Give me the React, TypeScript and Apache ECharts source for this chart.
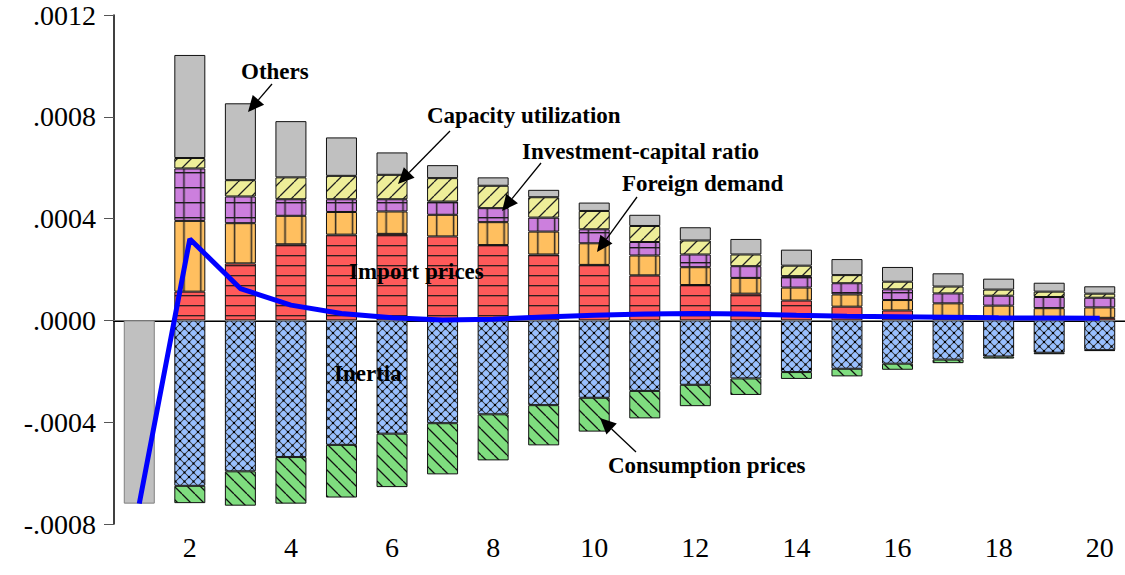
import React, { useEffect, useRef } from "react";
import * as echarts from "echarts";

// Values in units of 0.0001
const categories = ["1", "2", "3", "4", "5", "6", "7", "8", "9", "10", "11", "12", "13", "14", "15", "16", "17", "18", "19", "20"];
const importPrices = [null, 1.13, 2.24, 2.99, 3.37, 3.4, 3.3, 2.96, 2.59, 2.18, 1.77, 1.39, 1.05, 0.78, 0.54, 0.39, 0.08, 0.05, 0.05, 0.1];
const foreignDemand = [null, 2.78, 1.58, 1.12, 0.89, 0.88, 0.85, 0.9, 0.9, 0.85, 0.78, 0.7, 0.62, 0.51, 0.48, 0.41, 0.59, 0.53, 0.43, 0.41];
const investmentCapital = [null, 2.06, 1.05, 0.65, 0.5, 0.48, 0.52, 0.55, 0.55, 0.55, 0.53, 0.5, 0.46, 0.45, 0.44, 0.42, 0.39, 0.39, 0.44, 0.38];
const capacityUtil = [null, 0.41, 0.64, 0.86, 0.92, 0.96, 0.92, 0.88, 0.8, 0.72, 0.63, 0.55, 0.46, 0.41, 0.32, 0.3, 0.27, 0.24, 0.21, 0.16];
const inertia = [null, -6.5, -5.93, -5.37, -4.89, -4.45, -4.04, -3.69, -3.33, -3.04, -2.77, -2.53, -2.28, -2.03, -1.9, -1.7, -1.54, -1.42, -1.27, -1.17];
const consumptionPrices = [null, -0.68, -1.35, -1.83, -2.07, -2.1, -2.01, -1.81, -1.58, -1.33, -1.08, -0.84, -0.65, -0.27, -0.3, -0.24, -0.14, -0.08, -0.06, -0.03];
const others = [-7.2, 4.05, 3.02, 2.21, 1.51, 0.88, 0.51, 0.33, 0.29, 0.33, 0.44, 0.52, 0.61, 0.63, 0.63, 0.58, 0.52, 0.43, 0.35, 0.29];
const totalResponse = [-7.2, 3.2, 1.25, 0.6, 0.27, 0.1, 0.02, 0.05, 0.13, 0.2, 0.25, 0.27, 0.25, 0.2, 0.16, 0.14, 0.12, 0.1, 0.09, 0.08];
const yTicks = { min: -8, max: 12, interval: 4 };

const W = 1125;
const H = 575;
const GRID = { left: 114, right: 0, top: 15, bottom: 51 };
const BAR_W = 31;
const FONT = "'Liberation Serif', 'Times New Roman', serif";

type Draw = (ctx: CanvasRenderingContext2D, w: number, h: number) => void;
function makePattern(w: number, h: number, bg: string, draw: Draw) {
  const S = 4;
  const c = document.createElement("canvas");
  c.width = Math.round(w * S);
  c.height = Math.round(h * S);
  const ctx = c.getContext("2d")!;
  ctx.scale(c.width / w, c.height / h);
  ctx.fillStyle = bg;
  ctx.fillRect(0, 0, w, h);
  draw(ctx, w, h);
  return { image: c.toDataURL(), repeat: "repeat", imageWidth: w, imageHeight: h } as any;
}

function arrow(x1: number, y1: number, x2: number, y2: number) {
  const dx = x2 - x1, dy = y2 - y1;
  const len = Math.sqrt(dx * dx + dy * dy);
  const ux = dx / len, uy = dy / len;
  const hl = 16, hw = 7.5;
  const bx = x2 - ux * hl, by = y2 - uy * hl;
  return [
    { type: "line", z: 100, shape: { x1, y1, x2: bx, y2: by }, style: { stroke: "#000", lineWidth: 1.3 } },
    {
      type: "polygon", z: 100,
      shape: { points: [[x2, y2], [bx - uy * hw, by + ux * hw], [bx + uy * hw, by - ux * hw]] },
      style: { fill: "#000" },
    },
  ];
}

function label(text: string, x: number, y: number) {
  return {
    type: "text", z: 100, x, y,
    style: { text, fontSize: 23, fontWeight: "bold", fontFamily: FONT, fill: "#000", verticalAlign: "middle", align: "left" },
  };
}

export default function App() {
  const ref = useRef<HTMLDivElement>(null);
  useEffect(() => {
    const chart = echarts.init(ref.current!, null, { renderer: "svg" });
    const catW = (W - GRID.left - GRID.right) / categories.length;
    const P = catW / 3;
    const barLeft1 = GRID.left + (catW - BAR_W) / 2;
    const vOff = (barLeft1 + 9.5) % P;
    const lineC = "#1a1a1a";

    const redPat = makePattern(10, 10, "#ff5a5a", (ctx, w) => {
      ctx.fillStyle = lineC; ctx.fillRect(0, 5.1, w, 1.2);
    });
    const orangePat = makePattern(P, 10, "#ffbf5f", (ctx, w, h) => {
      ctx.fillStyle = lineC; ctx.fillRect(vOff - 0.7, 0, 1.4, h);
    });
    const purplePat = makePattern(P, 15, "#cc7fdd", (ctx, w, h) => {
      ctx.fillStyle = lineC; ctx.fillRect(vOff - 0.7, 0, 1.4, h); ctx.fillRect(0, 7, w, 1.4);
    });
    const yellowPat = makePattern(14, 14, "#eeee99", (ctx, w, h) => {
      ctx.strokeStyle = "#222"; ctx.lineWidth = 1.3;
      for (const o of [-14, 0, 14]) { ctx.beginPath(); ctx.moveTo(o, h); ctx.lineTo(o + w, 0); ctx.stroke(); }
    });
    const greenPat = makePattern(13, 13, "#7fdd7f", (ctx, w, h) => {
      ctx.strokeStyle = "#111"; ctx.lineWidth = 1.3;
      for (const o of [-13, 0, 13]) { ctx.beginPath(); ctx.moveTo(o, 0); ctx.lineTo(o + w, h); ctx.stroke(); }
    });
    const bluePat = makePattern(9, 9, "#99c0ff", (ctx, w, h) => {
      ctx.strokeStyle = "#333"; ctx.lineWidth = 0.9;
      ctx.beginPath(); ctx.moveTo(0, 0); ctx.lineTo(w, h); ctx.stroke();
      ctx.beginPath(); ctx.moveTo(w, 0); ctx.lineTo(0, h); ctx.stroke();
      ctx.fillStyle = "#000";
      const d = 1.1;
      for (const [x, y] of [[0, 0], [w, 0], [0, h], [w, h], [w / 2, h / 2]]) ctx.fillRect(x - d, y - d, 2 * d, 2 * d);
    });

    const bar = (name: string, data: any[], color: any) => ({
      type: "bar", name, stack: "total", barWidth: BAR_W, data,
      itemStyle: { color, borderColor: "#111", borderWidth: 1 },
      emphasis: { disabled: true },
    });

    const othersData = others.map((v, i) => (i === 0 ? { value: v, itemStyle: { borderColor: "#808080" } } : v));

    const option: any = {
      animation: false,
      grid: { ...GRID, containLabel: false },
      xAxis: {
        type: "category",
        data: categories,
        axisLine: { lineStyle: { color: "#000", width: 2 } },
        axisTick: { interval: 0, length: 12, lineStyle: { color: "#000", width: 1 } },
        axisLabel: {
          interval: (i: number) => i % 2 === 1,
          fontSize: 28, fontFamily: FONT, color: "#000", margin: 9,
        },
        splitLine: { show: false },
      },
      yAxis: {
        type: "value",
        min: yTicks.min, max: yTicks.max, interval: yTicks.interval,
        axisLine: { show: true, lineStyle: { color: "#000", width: 1.5 } },
        axisTick: { show: true, length: 10, lineStyle: { color: "#555" } },
        splitLine: { show: false },
        axisLabel: {
          fontSize: 28, fontFamily: FONT, color: "#000", margin: 18,
          formatter: (v: number) => (v < 0 ? "-" : "") + (Math.abs(v) / 1e4).toFixed(4).replace(/^0/, ""),
        },
      },
      series: [
        {
          ...bar("Import prices", importPrices, redPat),
          markLine: {
            silent: true, symbol: ["none", "none"], label: { show: false },
            lineStyle: { color: "#777", width: 1, type: "solid" },
            data: [{ yAxis: 0 }],
          },
        },
        bar("Foreign demand", foreignDemand, orangePat),
        bar("Investment-capital ratio", investmentCapital, purplePat),
        bar("Capacity utilization", capacityUtil, yellowPat),
        bar("Inertia", inertia, bluePat),
        bar("Consumption prices", consumptionPrices, greenPat),
        bar("Others", othersData, "#c0c0c0"),
        {
          type: "line", name: "Total", data: totalResponse, symbol: "none", z: 5,
          lineStyle: { color: "#0000ff", width: 5 }, emphasis: { disabled: true },
        },
      ],
      graphic: [
        label("Others", 241, 71),
        label("Capacity utilization", 427, 115),
        label("Investment-capital ratio", 522, 151),
        label("Foreign demand", 622, 183),
        label("Import prices", 349, 271),
        label("Inertia", 334, 373),
        label("Consumption prices", 608, 465),
        ...arrow(272, 84, 248, 112),
        ...arrow(450, 131, 398, 184),
        ...arrow(541, 163, 502, 211),
        ...arrow(637, 197, 597, 252),
        ...arrow(636, 452, 600, 418),
      ],
    };
    chart.setOption(option);
    return () => chart.dispose();
  }, []);
  return <div ref={ref} style={{ position: "absolute", left: 0, top: 0, width: W, height: H, background: "#fff" }} />;
}
